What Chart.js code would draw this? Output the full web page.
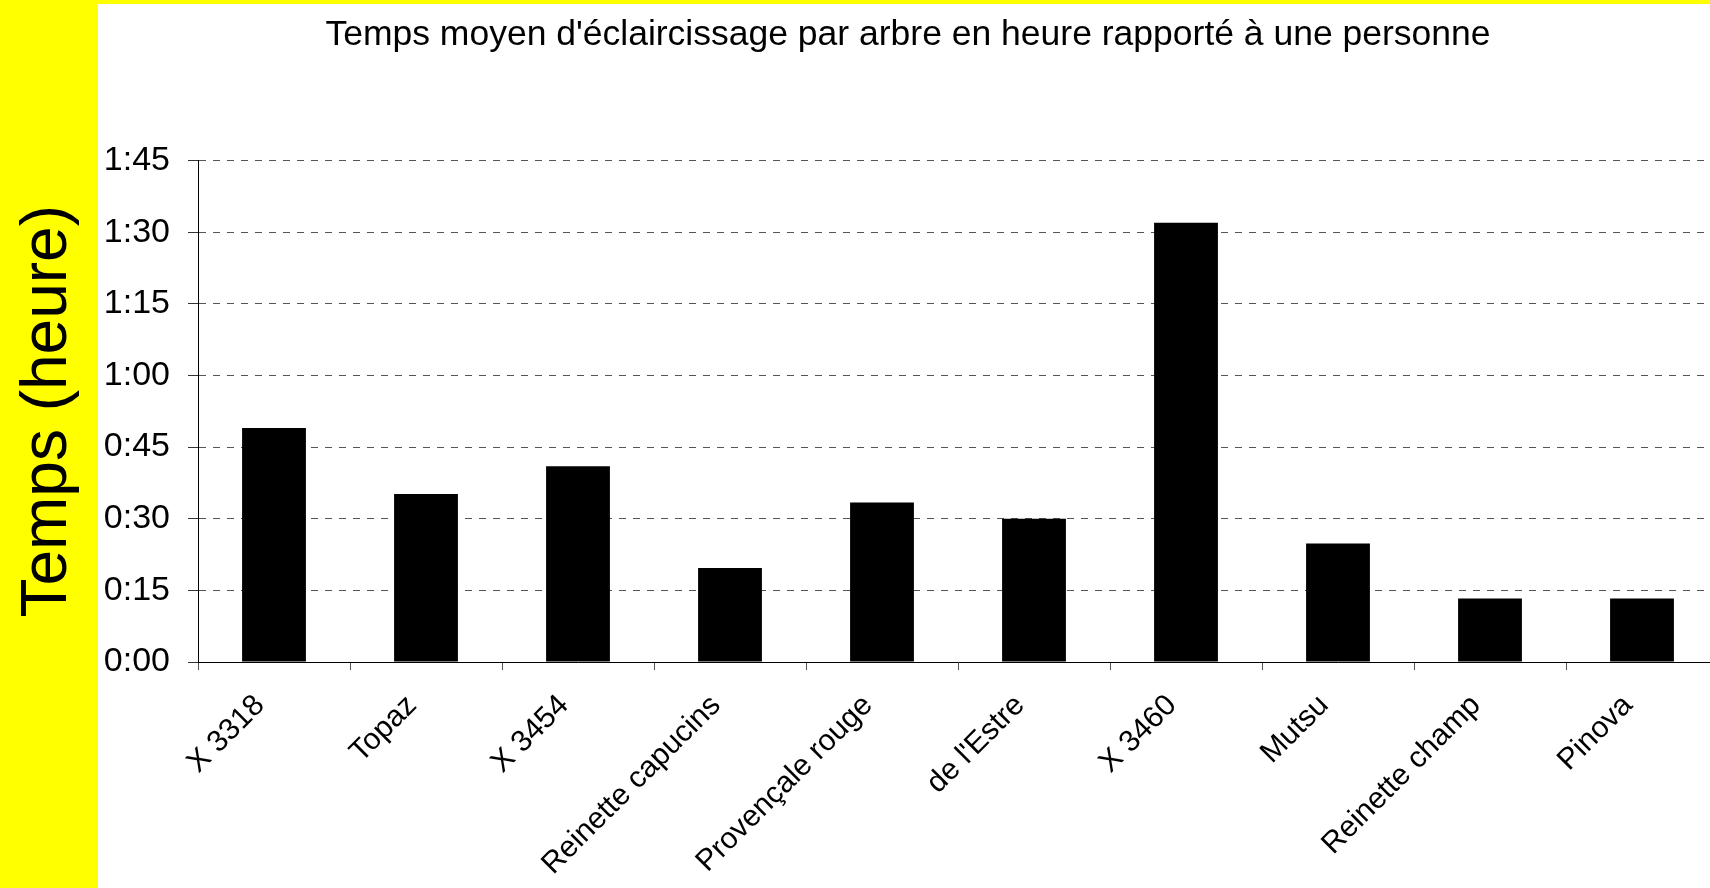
<!DOCTYPE html>
<html lang="fr">
<head>
<meta charset="utf-8">
<title>Temps moyen d'éclaircissage</title>
<script src="https://cdn.jsdelivr.net/npm/chart.js@4.4.1/dist/chart.umd.min.js"></script>
<style>
  html, body { margin: 0; padding: 0; overflow: hidden; background: #ffff00; }
  #wrap { width: 1718px; height: 888px; }
</style>
</head>
<body>
<div id="wrap"><canvas id="chart" width="1718" height="888"></canvas></div>
<script>
// === Data (minutes per tree) ===
const varieties = ['X 3318', 'Topaz', 'X 3454', 'Reinette capucins', 'Provençale rouge',
  "de l'Estre", 'X 3460', 'Mutsu', 'Reinette champ', 'Pinova'];
const minutesPerTree = [49, 35.2, 41, 19.7, 33.4, 30, 92, 24.8, 13.3, 13.3];
const yTickMax = 105;   // 1:45
const yTickStep = 15;   // every quarter hour

const FONT = "'Liberation Sans', Arial, sans-serif";

// minutes -> h:mm
function toHM(v) {
  const h = Math.floor(v / 60);
  const m = Math.round(v % 60);
  return `${h}:${String(m).padStart(2, '0')}`;
}

// yellow frame behind the white plot sheet
const sheetBg = {
  id: 'sheetBg',
  beforeDraw(chart) {
    const { ctx, width, height } = chart;
    ctx.save();
    ctx.fillStyle = '#ffff00';
    ctx.fillRect(0, 0, width, height);
    ctx.fillStyle = '#ffffff';
    ctx.fillRect(98, 4, width - 98, height - 4);
    ctx.restore();
  }
};

// center the title over the white sheet, not the whole canvas
const titleShift = {
  id: 'titleShift',
  afterLayout(chart) {
    if (chart.titleBlock) chart.titleBlock.left = 98;
  }
};

new Chart(document.getElementById('chart'), {
  type: 'bar',
  data: {
    labels: varieties,
    datasets: [{
      data: minutesPerTree,
      backgroundColor: '#000000',
      borderWidth: 0,
      barPercentage: 0.42,
      categoryPercentage: 1
    }]
  },
  options: {
    responsive: false,
    animation: false,
    devicePixelRatio: 1,
    layout: { padding: 0 },
    plugins: {
      legend: { display: false },
      tooltip: { enabled: false },
      title: {
        display: true,
        text: "Temps moyen d'éclaircissage par arbre en heure rapporté à une personne",
        color: '#000',
        font: { family: FONT, size: 35.5, weight: 'normal', lineHeight: 1.2 },
        padding: { top: 14, bottom: 104 }
      }
    },
    scales: {
      x: {
        offset: true,
        grid: {
          display: true,
          drawOnChartArea: false,
          drawTicks: true,
          tickLength: 8,
          offset: true,
          tickColor: '#555'
        },
        border: { display: true, color: '#000', width: 1 },
        ticks: {
          autoSkip: false,
          maxRotation: 45,
          minRotation: 45,
          color: '#000',
          padding: 18,
          labelOffset: -14,
          font: { family: FONT, size: 30 }
        },
        afterFit(scale) { scale.height = 226; }
      },
      y: {
        min: 0,
        max: yTickMax,
        grid: {
          color: c => (c.tick && c.tick.value === 0) ? 'rgba(0,0,0,0)' : '#555',
          lineWidth: 1,
          drawTicks: true,
          tickLength: 10,
          tickColor: '#333'
        },
        border: { display: true, color: '#000', width: 1, dash: [7, 7] },
        ticks: {
          stepSize: yTickStep,
          color: '#000',
          padding: 18,
          font: { family: FONT, size: 34 },
          callback: v => toHM(v)
        },
        title: {
          display: true,
          text: 'Temps (heure)',
          color: '#000',
          font: { family: FONT, size: 64, lineHeight: 1.2 },
          padding: { top: 10, bottom: 0 }
        },
        afterFit(scale) { scale.width = 198; }
      }
    }
  },
  plugins: [sheetBg, titleShift]
});
</script>
</body>
</html>
